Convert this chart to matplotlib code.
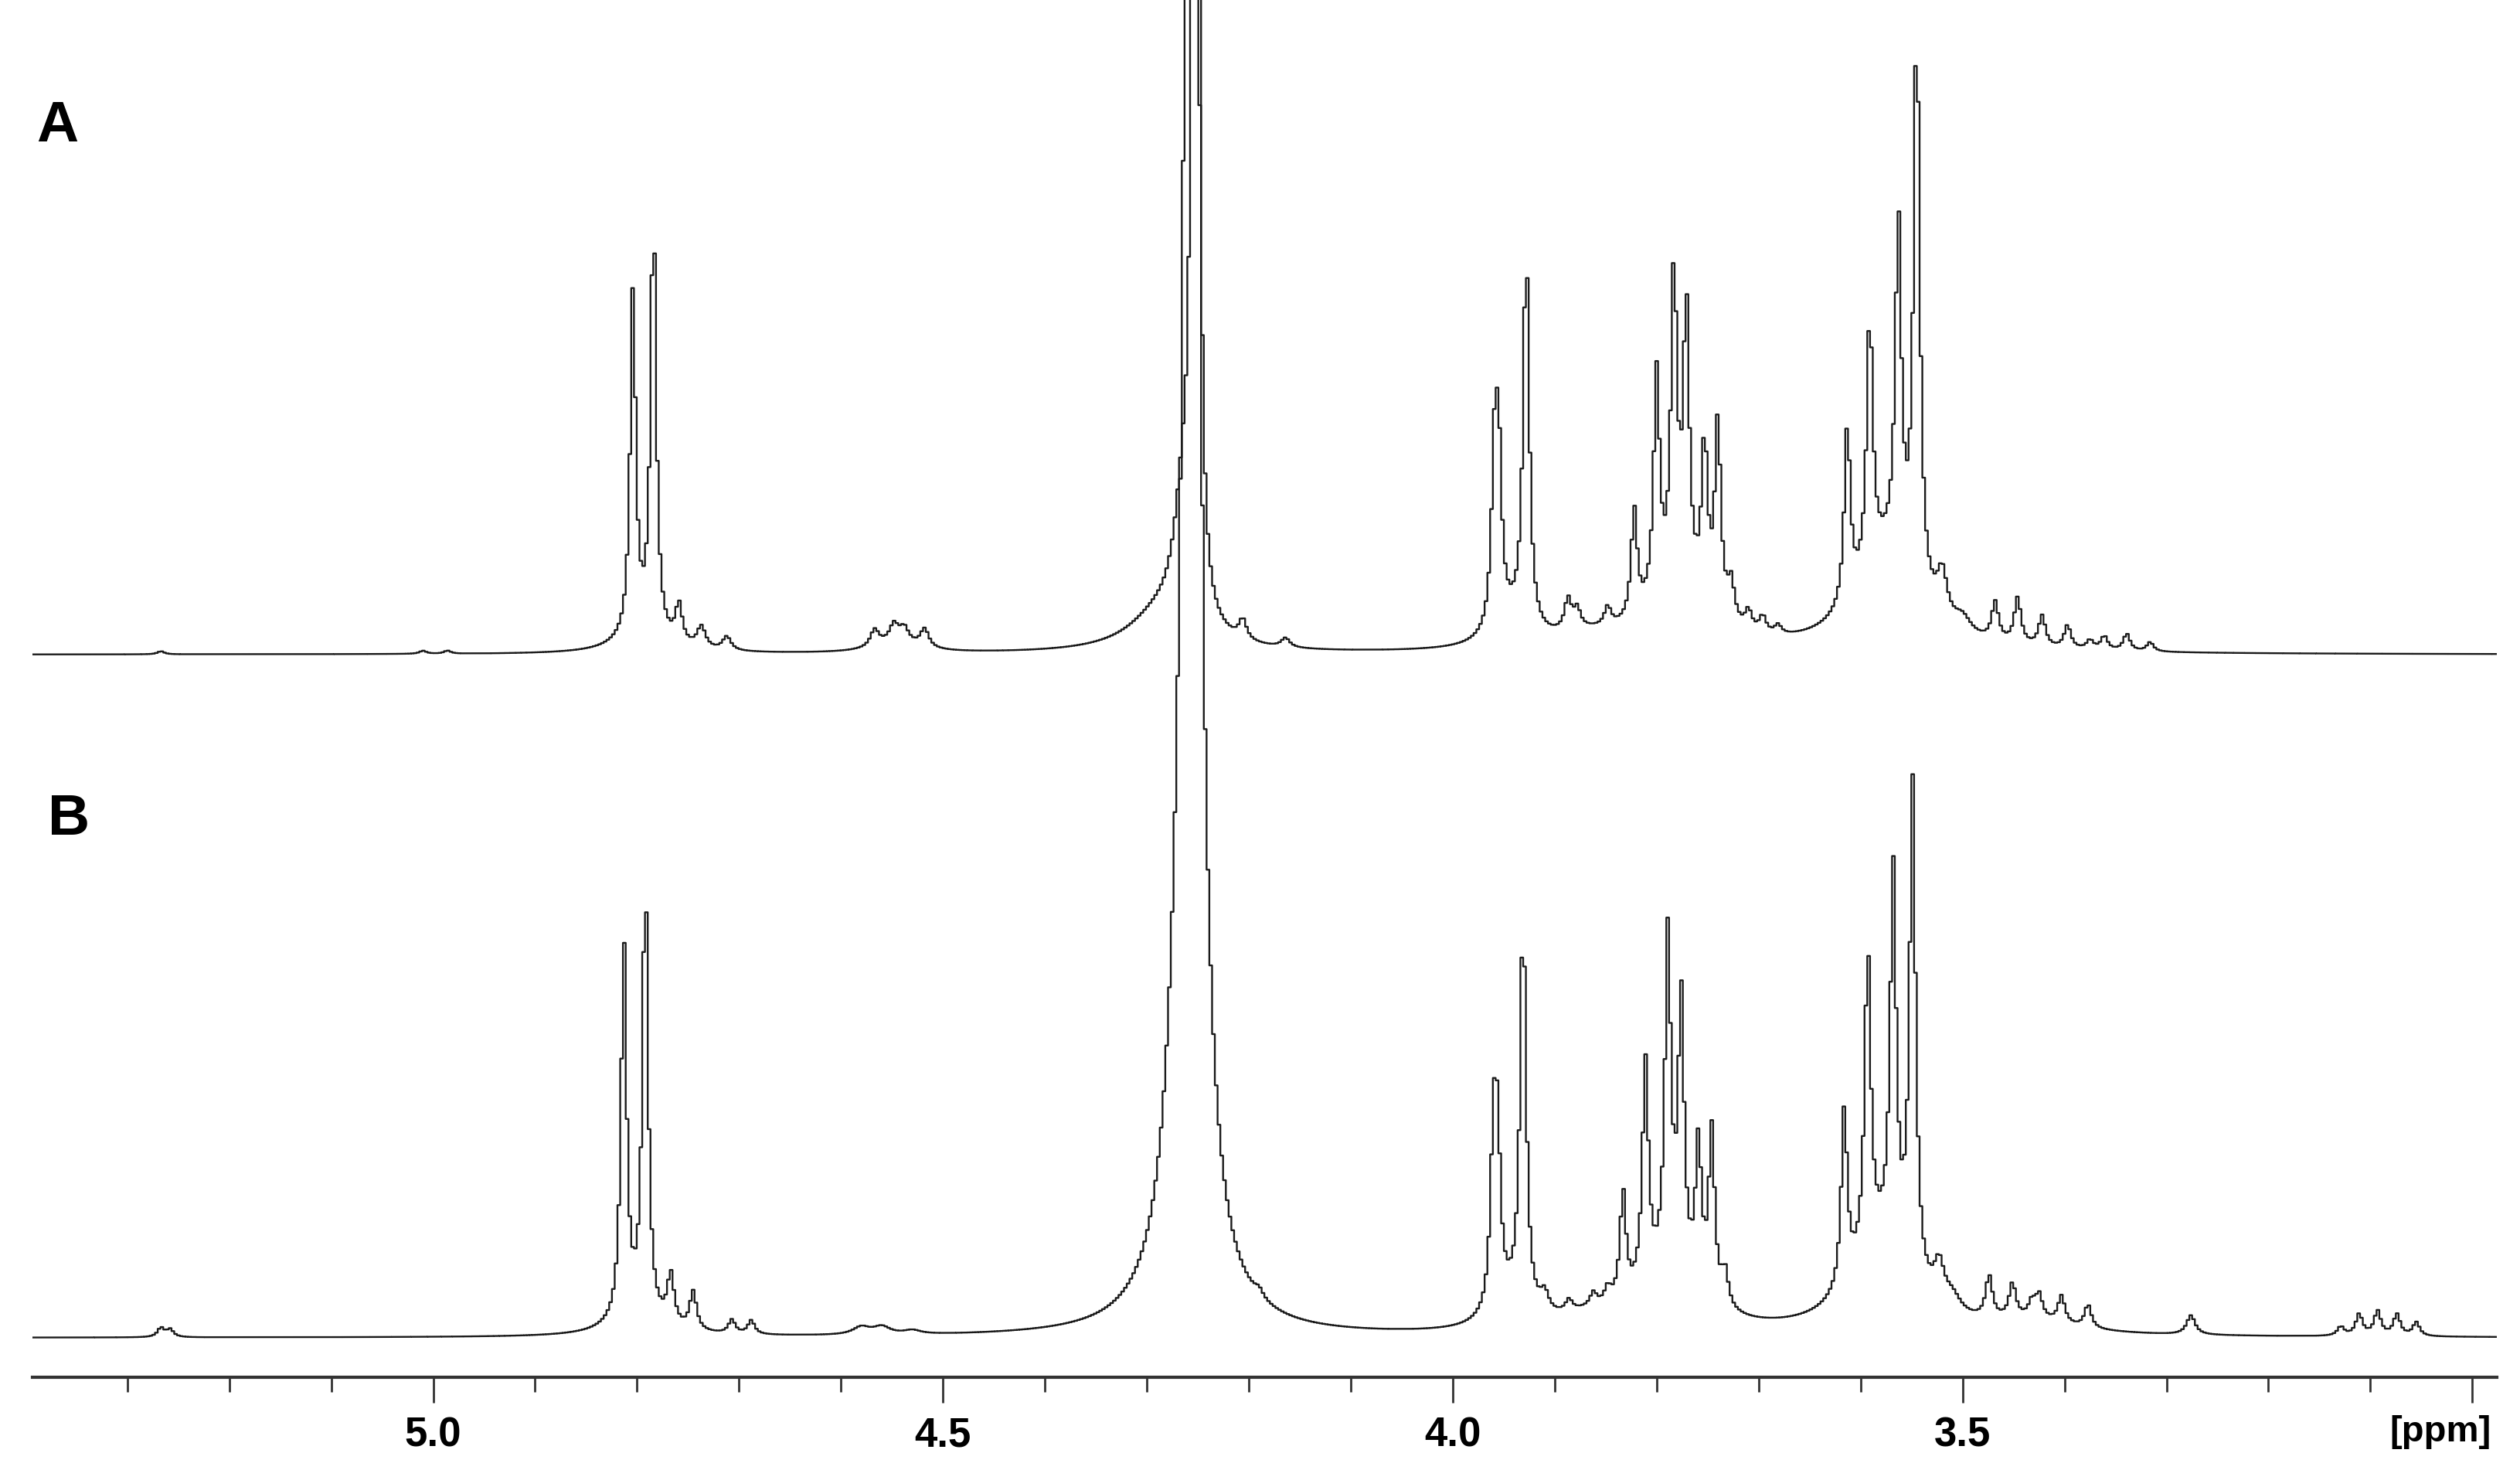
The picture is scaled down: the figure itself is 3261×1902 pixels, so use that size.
import numpy as np
import matplotlib.pyplot as plt

# peak lists (ppm, height, half width in ppm)
a_ppm = [5.267, 5.010, 4.986,
         4.804, 4.784, 4.795, 4.759, 4.737, 4.712,
         4.567, 4.548, 4.538, 4.518, 4.545,
         4.2523, 4.2645, 4.2871, 4.206, 4.164,
         3.959, 3.955, 3.928, 3.943, 3.887, 3.878, 3.848, 3.870,
         3.822, 3.800, 3.783, 3.771, 3.753, 3.740, 3.727, 3.710, 3.696, 3.681, 3.780,
         3.613, 3.591, 3.563, 3.545, 3.575, 3.520, 3.500,
         3.468, 3.446, 3.422, 3.397, 3.375, 3.361, 3.339, 3.316]
a_height = [4, 4, 4,
            450, 560, 18, 50, 28, 18,
            22, 22, 18, 24, 14,
            13000, 150, 45, 26, 12,
            205, 205, 495, 30, 40, 25, 25, 15,
            140, 295, 415, 370, 210, 250, 50, 25, 22, 12, 60,
            230, 330, 440, 740, 120, 60, 20,
            50, 60, 40, 30, 12, 18, 22, 12]
a_width = [0.004, 0.004, 0.004,
           0.0032, 0.0032, 0.03, 0.004, 0.005, 0.005,
           0.005, 0.005, 0.005, 0.005, 0.025,
           0.00114, 0.0106, 0.038, 0.0045, 0.005,
           0.0035, 0.0035, 0.0035, 0.02, 0.004, 0.004, 0.004, 0.04,
           0.0035, 0.0035, 0.0035, 0.0035, 0.0035, 0.0035, 0.004, 0.004, 0.004, 0.004, 0.04,
           0.0035, 0.0035, 0.0035, 0.0035, 0.035, 0.006, 0.01,
           0.004, 0.004, 0.004, 0.004, 0.004, 0.004, 0.004, 0.004]

b_ppm = [5.267, 5.258,
         4.813, 4.792, 4.800, 4.767, 4.745, 4.707, 4.688,
         4.580, 4.560, 4.530,
         4.2558, 4.2588, 4.190,
         3.960, 3.956, 3.931, 3.945, 3.910, 3.886, 3.862, 3.848, 3.870,
         3.833, 3.811, 3.789, 3.776, 3.759, 3.746, 3.733, 3.790,
         3.616, 3.593, 3.568, 3.549, 3.580, 3.523, 3.510,
         3.474, 3.451, 3.432, 3.425, 3.403, 3.377, 3.430,
         3.276, 3.129, 3.111, 3.093, 3.074, 3.055]
b_height = [12, 10,
            490, 580, 20, 65, 50, 18, 18,
            10, 10, 5,
            6000, 700, 10,
            205, 190, 510, 30, 25, 15, 18, 20, 15,
            140, 290, 440, 360, 190, 220, 45, 60,
            230, 395, 490, 640, 110, 50, 20,
            55, 45, 20, 30, 35, 30, 15,
            25, 12, 28, 32, 28, 18]
b_width = [0.004, 0.004,
           0.0032, 0.0032, 0.03, 0.004, 0.004, 0.004, 0.004,
           0.01, 0.01, 0.01,
           0.0036, 0.0164, 0.005,
           0.0035, 0.0035, 0.0035, 0.02, 0.005, 0.004, 0.004, 0.004, 0.04,
           0.0035, 0.0035, 0.0035, 0.0035, 0.0035, 0.0035, 0.004, 0.04,
           0.0035, 0.0035, 0.0035, 0.0035, 0.035, 0.006, 0.01,
           0.004, 0.004, 0.004, 0.004, 0.004, 0.004, 0.05,
           0.005, 0.004, 0.004, 0.004, 0.004, 0.004]

a_offset = 884
ppm = np.arange(5.393, 2.976, -0.0027)


def spectrum(centers, heights, widths):
    y = np.zeros_like(ppm)
    for c, h, w in zip(centers, heights, widths):
        y += h / (1 + ((ppm - c) / w) ** 2)
    return y


spec_a = spectrum(a_ppm, a_height, a_width) + a_offset
spec_b = spectrum(b_ppm, b_height, b_width)

fig = plt.figure(figsize=(32.62, 19.02), dpi=100)
ax = fig.add_axes([42 / 3262, 120 / 1902, 3189 / 3262, 1782 / 1902])

ax.plot(ppm, spec_a, color='#1a1a1a', lw=1.7, drawstyle='steps-mid')
ax.plot(ppm, spec_b, color='#1a1a1a', lw=1.7, drawstyle='steps-mid')

ax.set_xlim(5.393, 2.976)
ax.set_ylim(-51, 1731)

for side in ['top', 'left', 'right']:
    ax.spines[side].set_visible(False)
ax.spines['bottom'].set_linewidth(3)
ax.spines['bottom'].set_color('#333333')
ax.set_yticks([])

ax.set_xticks([5.0, 4.5, 4.0, 3.5, 3.0])
ax.set_xticklabels(['5.0', '4.5', '4.0', '3.5', ''])
ax.set_xticks(np.arange(5.3, 2.95, -0.1), minor=True)
ax.tick_params(axis='x', which='major', length=24, width=2, pad=12, color='#333333',
               labelsize=38)
ax.tick_params(axis='x', which='minor', length=14, width=2, color='#333333')
for lab in ax.get_xticklabels():
    lab.set_fontfamily('Liberation Sans')
    lab.set_fontweight('bold')

fig.text(3224 / 3262, 37 / 1902, '[ppm]', ha='right', va='baseline', fontsize=34,
         fontweight='bold', family='Liberation Sans')
fig.text(47 / 3262, (1902 - 183) / 1902, 'A', ha='left', va='baseline', fontsize=54,
         fontweight='bold', family='Liberation Sans')
fig.text(62 / 3262, (1902 - 1080) / 1902, 'B', ha='left', va='baseline', fontsize=54,
         fontweight='bold', family='Liberation Sans')

plt.savefig('out.png', dpi=100)
